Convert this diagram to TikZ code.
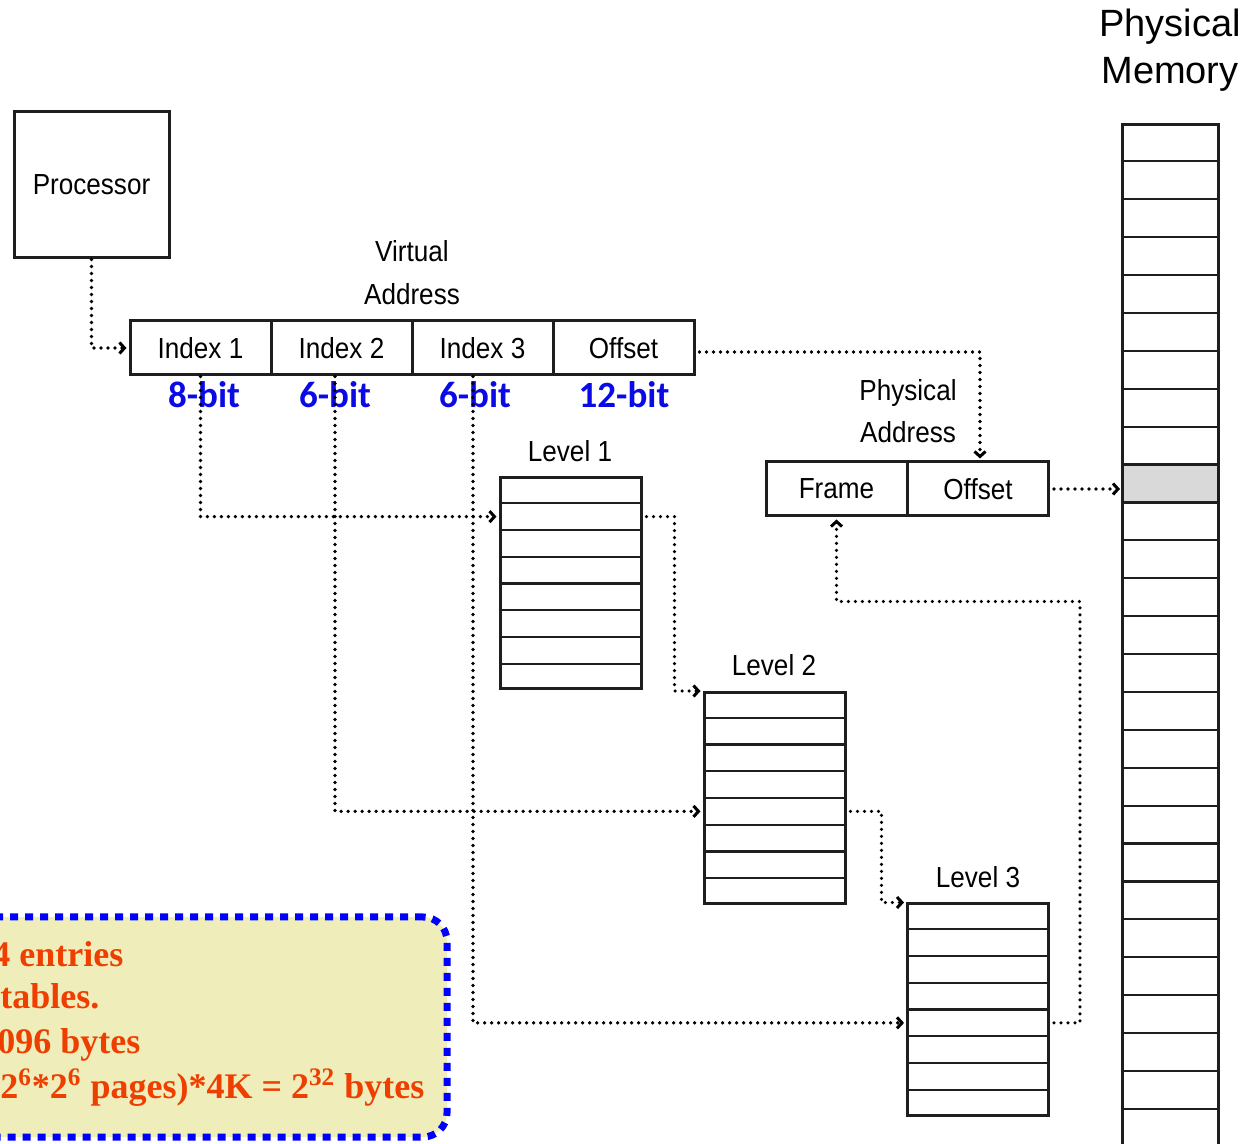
\documentclass[tikz,border=0pt]{standalone}
\usepackage{fontspec}
\setmainfont{Liberation Serif}
\newfontfamily\condfont[FakeStretch=0.9]{Liberation Sans}
\newfontfamily\helvfont{Liberation Sans}
\newfontfamily\califont{Carlito}
\usetikzlibrary{arrows.meta,calc}
\definecolor{notefill}{RGB}{239,238,187}
\definecolor{notetext}{RGB}{238,62,0}
\definecolor{bitblue}{RGB}{10,10,230}
\definecolor{ink}{RGB}{30,30,30}
\begin{document}
\begin{tikzpicture}[x=0.5pt,y=-0.5pt,
  box/.style={draw=ink, line width=1.5pt, inner sep=0pt},
  cell/.style={box, minimum width=70.5pt, minimum height=27pt, font=\condfont\fontsize{14.5pt}{17pt}\selectfont},
  table/.style={box, minimum width=70.5pt, minimum height=105.5pt},
  lbl/.style={font=\condfont\fontsize{14.5pt}{17pt}\selectfont, inner sep=0pt},
  bits/.style={font=\califont\bfseries\fontsize{18.5pt}{21pt}\selectfont, text=bitblue, inner sep=0pt},
  rowline/.style={draw=ink, line width=1.1pt},
  link/.style={draw=black, line width=1.8pt, dash pattern=on 0pt off 3.5pt, line cap=round},
  arr/.style={link, shorten >=1pt, -{Straight Barb[length=2.5pt,width=5.5pt,line width=1.5pt]}},
  notebox/.style={draw=blue, fill=notefill, line width=3.5pt, dash pattern=on 4pt off 3.5pt, rounded corners=12pt, inner sep=0pt},
  notetxt/.style={font=\bfseries\fontsize{18pt}{21pt}\selectfont, text=notetext, inner sep=0pt, anchor=base west}
]
\useasboundingbox (0,0) rectangle (1255,1144);
\clip (0,0) rectangle (1255,1144);

% callout
\node[notebox, minimum width=238.5pt, minimum height=110pt] (note) at (208.5,1027) {};
\node[notetxt] (n1) at (-8,966) {4 entries};
\node[notetxt] (n2) at (0,1008) {tables.};
\node[notetxt] (n3) at (-3,1053) {096 bytes};
\node[notetxt] (n4) at (0,1098) {2\textsuperscript{6}*2\textsuperscript{6} pages)*4K = 2\textsuperscript{32} bytes};

% processor
\node[box, minimum width=77.5pt, minimum height=73pt, font=\condfont\fontsize{14.5pt}{17pt}\selectfont] (proc) at (91.5,185) {Processor};

% virtual address
\node[lbl, anchor=base] (va1) at (412,262) {Virtual};
\node[lbl, anchor=base] (va2) at (412,305) {Address};
\node[cell] (idx1) at (200.5,348) {Index 1};
\node[cell] (idx2) at (341.5,348) {Index 2};
\node[cell] (idx3) at (482.5,348) {Index 3};
\node[cell] (off)  at (623.5,348) {Offset};

\node[bits] (b1) at (204,395) {8-bit};
\node[bits] (b2) at (335,395) {6-bit};
\node[bits] (b3) at (475,395) {6-bit};
\node[bits] (b4) at (624,395) {12-bit};

% physical address
\node[lbl, anchor=base] (pa1) at (908,401) {Physical};
\node[lbl, anchor=base] (pa2) at (908,443) {Address};
\node[cell] (frame) at (836.5,489) {Frame};
\node[cell] (off2)  at (978,489) {Offset};

% tables
\node[lbl, anchor=base] (lv1) at (570,462) {Level 1};
\node[lbl, anchor=base] (lv2) at (774,676) {Level 2};
\node[lbl, anchor=base] (lv3) at (978,888) {Level 3};
\node[table] (L1) at (570.5,583.5) {};
\node[table] (L2) at (774.5,798) {};
\node[table] (L3) at (978,1009.5) {};
\foreach \t in {L1,L2,L3}{
  \foreach \i in {1,...,7}{
    \draw[rowline] ($(\t.north west)!\i/8!(\t.south west)$) -- ($(\t.north east)!\i/8!(\t.south east)$);
  }
}

% physical memory
\node[font=\helvfont\fontsize{19pt}{22pt}\selectfont, inner sep=0pt, anchor=base] (pm1) at (1170,37) {Physical};
\node[font=\helvfont\fontsize{19pt}{22pt}\selectfont, inner sep=0pt, anchor=base] (pm2) at (1170,84) {Memory};
\node[fill=gray!30, minimum width=48pt, minimum height=18.95pt, inner sep=0pt, anchor=north west] (hit) at (1122,466.1) {};
\node[box, minimum width=48pt, minimum height=520pt] (mem) at (1170,645) {};
\foreach \k in {1,...,27}{
  \draw[rowline] ($(mem.north west)+(0,37.9*\k)$) -- ($(mem.north east)+(0,37.9*\k)$);
}

% connectors
\coordinate (l1in) at ($(L1.north west)!0.1875!(L1.south west)$);
\coordinate (l2in) at ($(L2.north west)!0.5625!(L2.south west)$);
\coordinate (l3in) at ($(L3.north west)!0.5625!(L3.south west)$);
\coordinate (a) at (L1.east |- l1in);
\coordinate (b) at (L2.east |- l2in);
\coordinate (c) at (L3.east |- l3in);

\draw[arr] (proc.south) |- (idx1.west);
\draw[arr] (idx1.south) |- (l1in);
\draw[arr] ([xshift=-3.25pt]idx2.south) |- (l2in);
\draw[arr] ([xshift=-4.75pt]idx3.south) |- (l3in);
\draw[arr] ([xshift=2pt]a) -- ++(28,0) |- (L2.north west);
\draw[arr] ([xshift=2pt]b) -- ++(31,0) |- (L3.north west);
\draw[arr] ([xshift=2pt]c) -- ++(26,0) |- ($(frame.south)+(0,84)$) -- (frame.south);
\draw[arr] ([xshift=2pt,yshift=-2pt]off.east) -| ([xshift=1pt]off2.north);
\draw[arr] ([xshift=2pt]off2.east) -- (off2.east -| hit.west);
\end{tikzpicture}
\end{document}
